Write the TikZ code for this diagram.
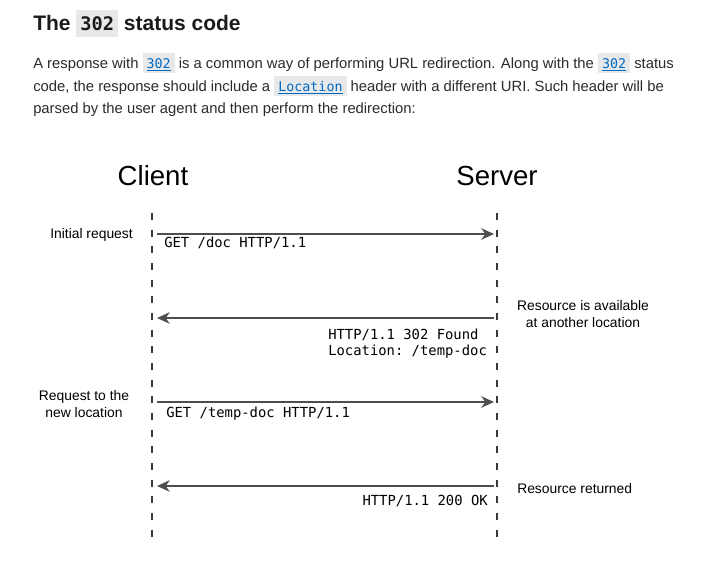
\documentclass[tikz,border=0pt]{standalone}
\usepackage{fontspec}
\setmainfont{Liberation Sans}
\setmonofont{DejaVu Sans Mono}
\usetikzlibrary{arrows.meta}
\definecolor{txt}{HTML}{2B2B2B}
\definecolor{head}{HTML}{1B1B1B}
\definecolor{codebg}{HTML}{E6E8EA}
\definecolor{link}{HTML}{0069C2}
\definecolor{arr}{HTML}{4D4D4D}
\definecolor{life}{HTML}{3A3A3A}
\newcommand{\cb}[1]{{\setlength\fboxsep{0pt}\colorbox{codebg}{\rule[-3.75pt]{0pt}{15pt}\hspace{3pt}{\ttfamily\fontsize{10pt}{12pt}\selectfont\color{link}\underline{#1}}\hspace{3pt}}}}
\newcommand{\tb}[1]{{\setlength\fboxsep{0pt}\colorbox{codebg}{\rule[-5.25pt]{0pt}{20.25pt}\hspace{3pt}{\ttfamily\bfseries\fontsize{14pt}{16pt}\selectfont\color{head}#1}\hspace{3pt}}}}
\tikzset{
  bodyline/.style={anchor=base west, inner sep=0pt, text=txt, font=\fontsize{11.1pt}{14pt}\selectfont},
  actor/.style={inner sep=0pt, text=black, font=\fontsize{20.7pt}{24pt}\selectfont},
  side/.style={inner sep=0pt, text=black, align=center, font=\fontsize{10.4pt}{12.2pt}\selectfont},
  msg/.style={inner sep=0pt, text=black, align=left, font=\ttfamily\fontsize{10.4pt}{12pt}\selectfont},
  lifeline/.style={draw=life, line width=2.1pt, dash pattern=on 5.2pt off 7.3pt},
  call/.style={draw=arr, line width=1.6pt, -{Stealth[length=9.5pt, width=8.5pt, inset=3pt]}}
}
\begin{document}
\begin{tikzpicture}[x=0.75pt,y=-0.75pt]
\useasboundingbox[fill=white] (0,0) rectangle (706,564);
% heading
\node[anchor=base west, inner sep=0pt, text=head, font=\fontsize{15.75pt}{18pt}\selectfont\bfseries] (title) at (33,30) {The \tb{302} status code};
% paragraph
\node[bodyline] (p1) at (33,68) {A response with \cb{302} is a common way of performing URL redirection. Along with the \cb{302} status};
\node[bodyline] (p2) at (33,91) {code, the response should include a \cb{Location} header with a different URI. Such header will be};
\node[bodyline] (p3) at (33,113) {parsed by the user agent and then perform the redirection:};
% actors
\node[actor] (client) at (153,176) {Client};
\node[actor] (server) at (497,176) {Server};
% lifelines
\coordinate (ct) at (152,213); \coordinate (cb) at (152,542);
\coordinate (st) at (497,213); \coordinate (sb) at (497,542);
\draw[lifeline] (ct) -- (cb);
\draw[lifeline] (st) -- (sb);
% message anchors
\coordinate (c1) at (157,234); \coordinate (s1) at (494,234);
\coordinate (c2) at (157,318); \coordinate (s2) at (494,318);
\coordinate (c3) at (157,402); \coordinate (s3) at (494,402);
\coordinate (c4) at (157,486); \coordinate (s4) at (494,486);
\draw[call] (c1) -- (s1);
\draw[call] (s2) -- (c2);
\draw[call] (c3) -- (s3);
\draw[call] (s4) -- (c4);
% message labels
\node[msg, anchor=west] (m1) at (164,243) {GET /doc HTTP/1.1};
\node[msg, anchor=west] (m2) at (328,344) {HTTP/1.1 302 Found\\Location: /temp-doc};
\node[msg, anchor=west] (m3) at (166,414) {GET /temp-doc HTTP/1.1};
\node[msg, anchor=east] (m4) at (488,501) {HTTP/1.1 200 OK};
% side labels
\node[side, anchor=east] (l1) at (133,235) {Initial request};
\node[side] (l2) at (84,404) {Request to the\\new location};
\node[side] (r1) at (583,314) {Resource is available\\at another location};
\node[side, anchor=west] (r2) at (517,489) {Resource returned};
\end{tikzpicture}
\end{document}
